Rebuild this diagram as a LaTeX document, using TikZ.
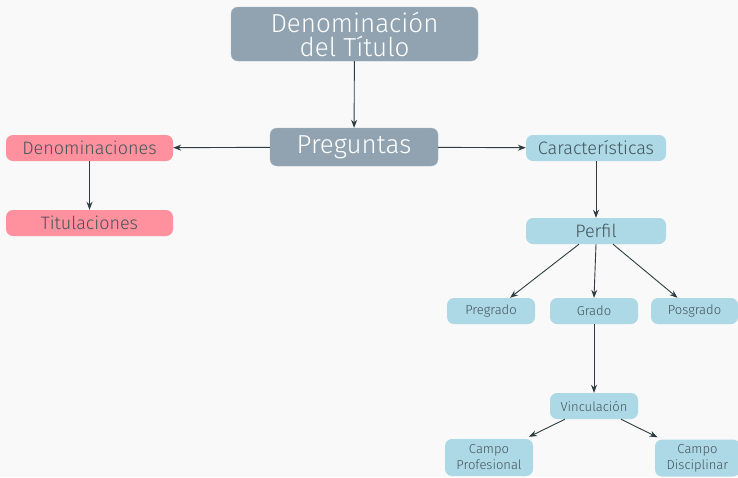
\documentclass[tikz,border=0pt]{standalone}
\usepackage{fontspec}
\setmainfont{Fira Sans Light}
\usetikzlibrary{arrows.meta}
\definecolor{bg}{HTML}{F9F9F9}
\definecolor{slate}{HTML}{91A3B1}
\definecolor{pinkc}{HTML}{FF919F}
\definecolor{bluec}{HTML}{ADD8E6}
\definecolor{edge}{HTML}{2E3D42}
\definecolor{txt}{HTML}{44545A}
\tikzset{
  x=1pt,y=-1pt,
  box/.style={rounded corners=7pt, inner sep=0pt, align=center},
  bigbox/.style={box, fill=slate, draw=slate!80!white, text=white},
  pinkbox/.style={box, fill=pinkc, text=txt, font=\fontsize{18}{20}\selectfont, minimum width=167pt, minimum height=26pt},
  bluebox/.style={box, fill=bluec, text=txt, font=\fontsize{18}{20}\selectfont, minimum width=140pt, minimum height=26pt},
  smallbox/.style={box, fill=bluec, text=txt, font=\fontsize{13}{16}\selectfont, minimum width=88pt, minimum height=26pt},
  conn/.style={draw=edge, line width=0.9pt, -{Stealth[length=8pt,width=6pt]}}
}
\begin{document}
\begin{tikzpicture}
\fill[bg] (0,0) rectangle (738,477);
\useasboundingbox (0,0) rectangle (738,477);
\node[bigbox, minimum width=247pt, minimum height=54pt, font=\fontsize{26}{24}\selectfont] (title) at (354.5,34) {Denominación\\del Título};
\node[bigbox, minimum width=168pt, minimum height=38pt, font=\fontsize{26}{28}\selectfont] (preg) at (354,147) {Preguntas};
\node[pinkbox] (denom) at (89.5,148) {Denominaciones};
\node[pinkbox] (titul) at (89.5,223) {Titulaciones};
\node[bluebox] (carac) at (596,148) {Características};
\node[bluebox] (perfil) at (596,231) {Perfil};
\node[smallbox] (pregrado) at (491,311) {Pregrado};
\node[smallbox] (grado) at (594,311) {Grado};
\node[smallbox, minimum width=87pt] (posgrado) at (694.5,311) {Posgrado};
\node[smallbox] (vinc) at (594,406) {Vinculación};
\node[smallbox, minimum height=37pt] (cprof) at (489,457.5) {Campo\\Profesional};
\node[smallbox, minimum height=37pt, minimum width=85pt] (cdisc) at (697.5,458) {Campo\\Disciplinar};
\draw[conn] (title) -- (preg);
\draw[conn] (preg) -- (denom);
\draw[conn] (preg) -- (carac);
\draw[conn] (denom) -- (titul);
\draw[conn] (carac) -- (perfil);
\draw[conn] ([xshift=-17pt]perfil.south) -- ([xshift=19pt]pregrado.north);
\draw[conn] (perfil.south) -- (grado.north);
\draw[conn] ([xshift=17pt]perfil.south) -- ([xshift=-17pt]posgrado.north);
\draw[conn] (grado) -- (vinc);
\draw[conn] ([xshift=-29pt]vinc.south) -- ([xshift=40pt,yshift=2pt]cprof.north);
\draw[conn] ([xshift=27pt]vinc.south) -- ([xshift=-40pt,yshift=2pt]cdisc.north);
\end{tikzpicture}
\end{document}
